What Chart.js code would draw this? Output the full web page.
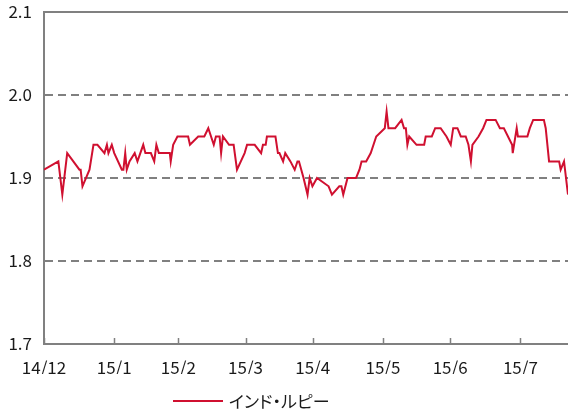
<!DOCTYPE html>
<html>
<head>
<meta charset="utf-8">
<script src="https://cdn.jsdelivr.net/npm/chart.js@4"></script>
<style>
  html, body { margin: 0; padding: 0; background: #fff; }
  #wrap { position: relative; width: 568px; height: 414px; }
  #legend { position: absolute; left: 173px; top: 388px; display: flex; align-items: center;
            font-family: "Noto Sans CJK JP", sans-serif; font-size: 17px; color: #1a1a1a;
            font-feature-settings: "palt"; }
  #legend .swatch { width: 50px; height: 2px; background: #d01030; margin-right: 6px; }
</style>
</head>
<body>
<div id="wrap">
  <canvas id="chart" width="568" height="414"></canvas>
  <div id="legend"><span class="swatch"></span><span>インド・ルピー</span></div>
</div>
<script>
// business-day index (0 = start of Dec 2014) and value
const days = [0, 4.7, 6.0, 7.6, 9.6, 11.6, 12.0, 12.6, 14.9, 16.2, 17.5, 19.8, 20.6, 21.1, 22.2, 23.0,
  25.5, 26.0, 26.6, 27.1, 28.0, 29.7, 30.6, 32.5, 33.2, 35.0, 36.1, 36.8, 37.6, 41.2, 41.5, 42.3,
  43.7, 47.2, 47.8, 50.5, 52.5, 53.8, 55.6, 56.3, 57.5, 58.0, 58.6, 60.6, 62.1, 63.2, 65.7, 66.5,
  69.0, 71.1, 71.7, 72.6, 73.0, 75.8, 76.6, 77.1, 78.3, 79.0, 80.7, 82.1, 83.0, 83.5, 85.0, 86.3,
  87.0, 87.9, 89.4, 93.2, 94.3, 96.7, 97.4, 98.0, 99.4, 102.2, 103.3, 104.0, 105.5, 107.0, 108.8,
  111.6, 112.2, 112.8, 115.0, 117.1, 117.9, 118.5, 119.0, 119.6, 122.0, 124.5, 125.0, 127.0, 128.1,
  129.9, 131.8, 133.2, 134.0, 135.4, 136.5, 138.1, 139.0, 139.8, 140.3, 142.3, 143.8, 144.9, 147.9,
  149.3, 150.6, 153.3, 153.5, 154.8, 155.2, 158.3, 159.1, 160.2, 163.7, 164.3, 165.4, 168.7, 169.2,
  170.3, 171.6];
const rupee = [1.91, 1.92, 1.88, 1.93, 1.92, 1.91, 1.91, 1.89, 1.91, 1.94, 1.94, 1.93, 1.94, 1.93, 1.94, 1.93,
  1.91, 1.91, 1.93, 1.91, 1.92, 1.93, 1.92, 1.94, 1.93, 1.93, 1.92, 1.94, 1.93, 1.93, 1.92, 1.94,
  1.95, 1.95, 1.94, 1.95, 1.95, 1.96, 1.94, 1.95, 1.95, 1.93, 1.95, 1.94, 1.94, 1.91, 1.93, 1.94,
  1.94, 1.93, 1.94, 1.94, 1.95, 1.95, 1.93, 1.93, 1.92, 1.93, 1.92, 1.91, 1.92, 1.92, 1.90, 1.88,
  1.90, 1.89, 1.90, 1.89, 1.88, 1.89, 1.89, 1.88, 1.90, 1.90, 1.91, 1.92, 1.92, 1.93, 1.95,
  1.96, 1.98, 1.96, 1.96, 1.97, 1.96, 1.96, 1.94, 1.95, 1.94, 1.94, 1.95, 1.95, 1.96,
  1.96, 1.95, 1.94, 1.96, 1.96, 1.95, 1.95, 1.94, 1.92, 1.94, 1.95, 1.96, 1.97, 1.97,
  1.96, 1.96, 1.94, 1.93, 1.96, 1.95, 1.95, 1.96, 1.97, 1.97, 1.96, 1.92, 1.92, 1.91,
  1.92, 1.88];
const monthStarts = [0, 23, 44, 66, 88, 111, 133, 156];
const monthLabels = ["14/12", "15/1", "15/2", "15/3", "15/4", "15/5", "15/6", "15/7"];

const gridColor = "#808080";
const textFont = { family: "'Noto Sans CJK JP', sans-serif", size: 17 };

// top frame line and small inward month ticks on the x axis
const frame = {
  id: "frame",
  beforeDatasetsDraw(chart) {
    const { ctx, chartArea, scales } = chart;
    ctx.save();
    ctx.strokeStyle = gridColor;
    ctx.lineWidth = 2;
    ctx.beginPath();
    ctx.moveTo(chartArea.left, chartArea.top);
    ctx.lineTo(chartArea.right, chartArea.top);
    ctx.stroke();
    ctx.lineWidth = 1.5;
    ctx.beginPath();
    monthStarts.forEach(v => {
      const x = Math.round(scales.x.getPixelForValue(v)) + 0.5;
      ctx.moveTo(x, chartArea.bottom);
      ctx.lineTo(x, chartArea.bottom - 6);
    });
    ctx.stroke();
    ctx.restore();
  }
};

new Chart(document.getElementById("chart"), {
  type: "line",
  data: {
    datasets: [{
      label: "インド・ルピー",
      data: days.map((d, i) => ({ x: d, y: rupee[i] })),
      borderColor: "#d01030",
      borderWidth: 2,
      pointRadius: 0,
      tension: 0
    }]
  },
  options: {
    responsive: false,
    animation: false,
    layout: { padding: { top: 12, right: 0, bottom: 40, left: 0 } },
    plugins: { legend: { display: false }, tooltip: { enabled: false } },
    scales: {
      x: {
        type: "linear",
        min: 0,
        max: days[days.length - 1],
        afterBuildTicks: s => { s.ticks = monthStarts.map(v => ({ value: v })); },
        afterFit: s => { s.height = 30; },
        ticks: {
          autoSkip: false,
          maxRotation: 0,
          padding: 5,
          color: "#1a1a1a",
          font: textFont,
          callback: (v, i) => monthLabels[i]
        },
        grid: { display: false },
        border: { display: true, color: gridColor, width: 2 }
      },
      y: {
        min: 1.7,
        max: 2.1,
        afterFit: s => { s.width = 44; s.paddingTop = 0; s.paddingBottom = 0; },
        ticks: {
          stepSize: 0.1,
          padding: 12,
          color: "#1a1a1a",
          font: textFont,
          callback: v => v.toFixed(1)
        },
        grid: {
          drawTicks: false,
          lineWidth: 2,
          color: c => {
            const v = c.tick ? c.tick.value : 0;
            return (Math.abs(v - 1.7) < 1e-6 || Math.abs(v - 2.1) < 1e-6) ? "transparent" : gridColor;
          }
        },
        border: { display: true, color: gridColor, width: 2, dash: [8, 5] }
      }
    }
  },
  plugins: [frame]
});
</script>
</body>
</html>
